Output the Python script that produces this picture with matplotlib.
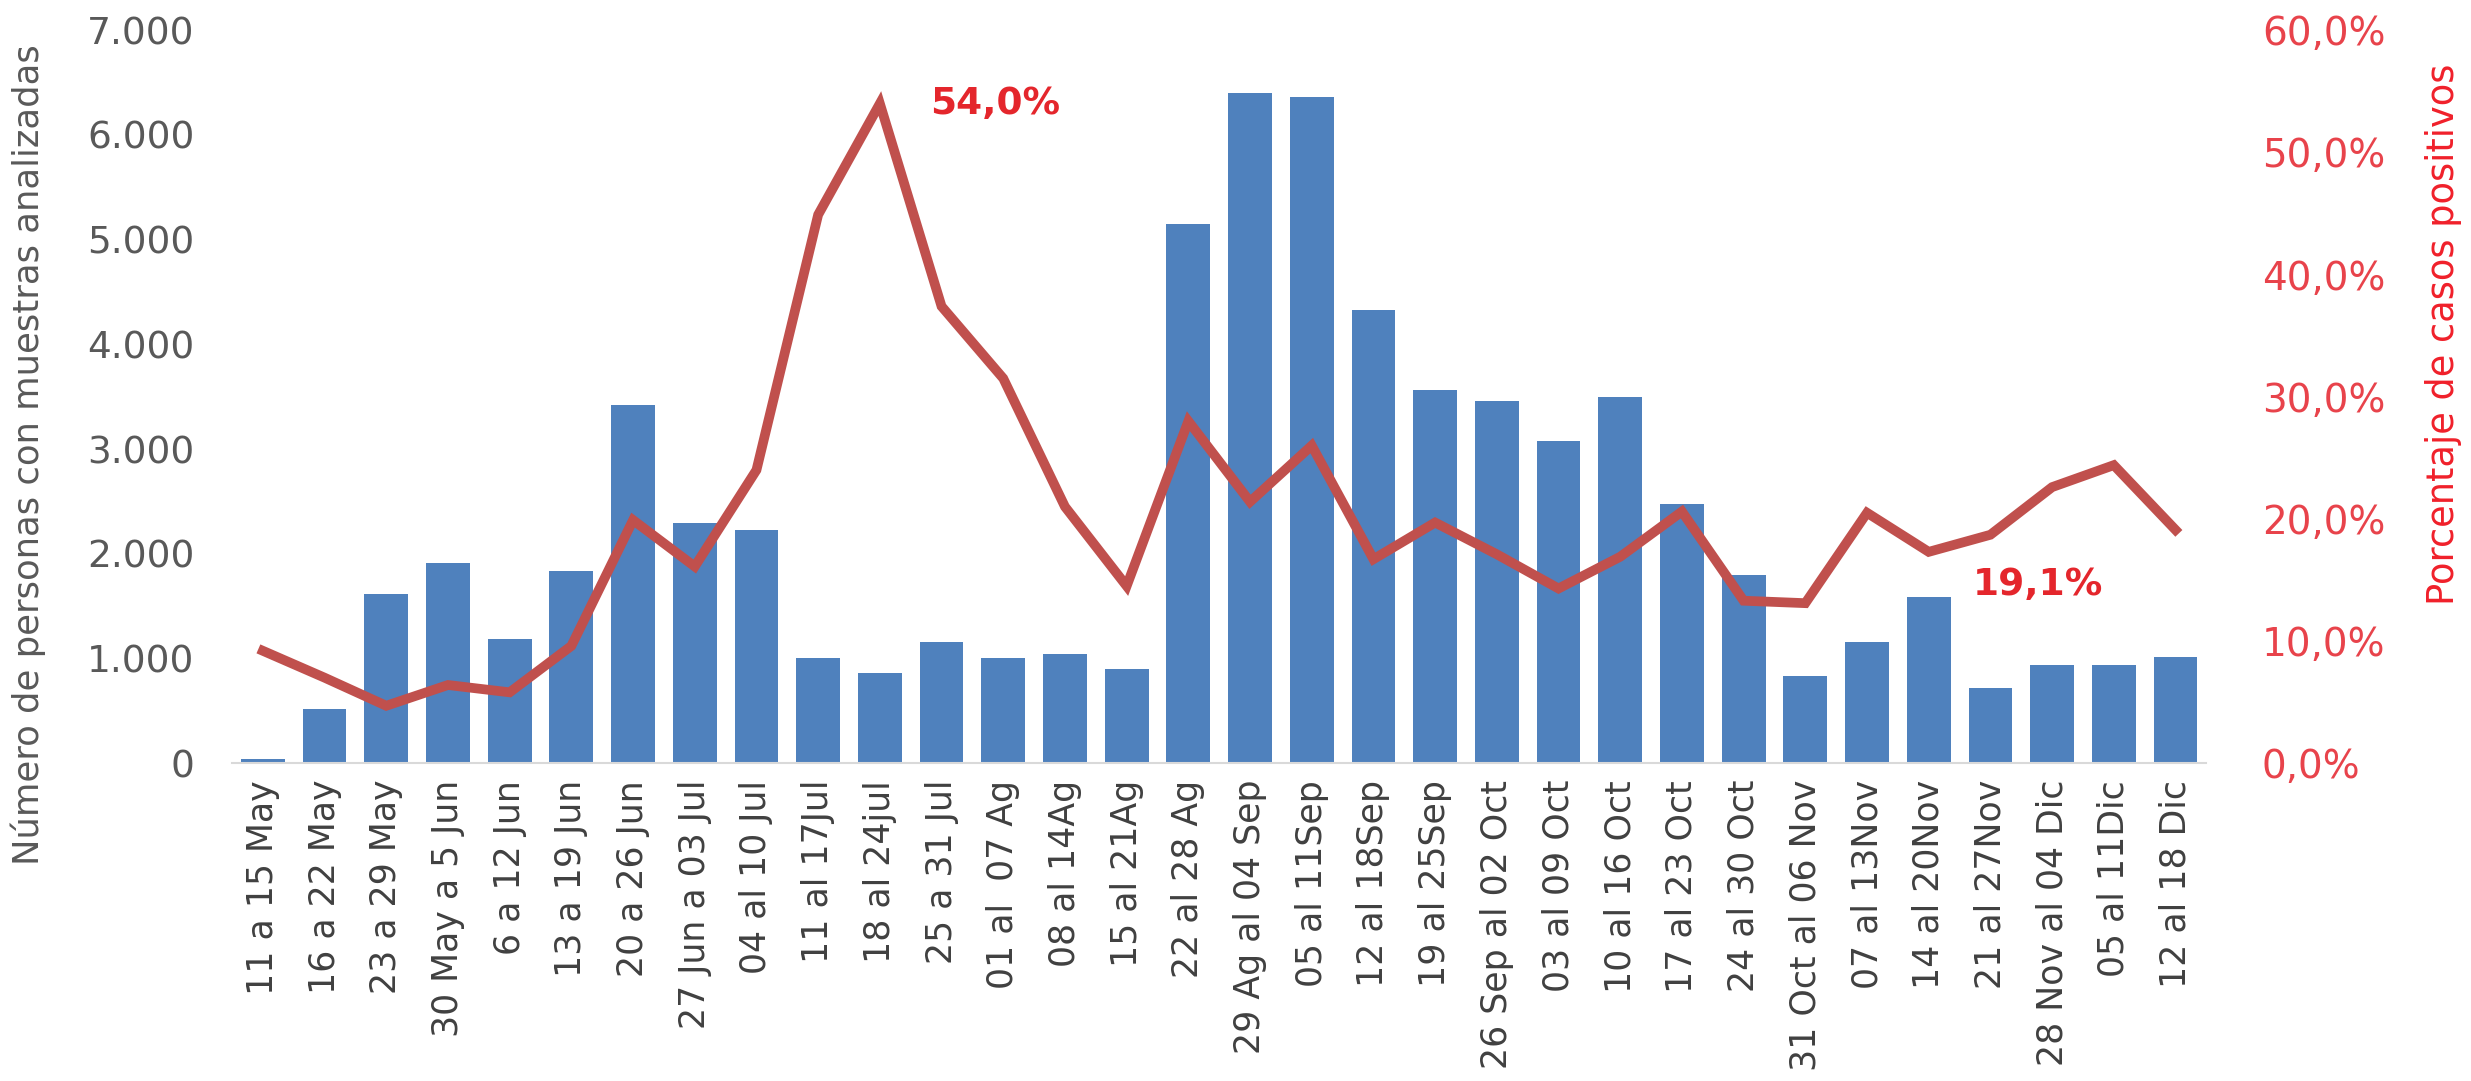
import matplotlib
matplotlib.use('Agg')
import matplotlib.pyplot as plt
from matplotlib.ticker import FuncFormatter

# weekly periods
semanas = ["11 a 15 May", "16 a 22 May", "23 a 29 May", "30 May a 5 Jun", "6 a 12 Jun",
           "13 a 19 Jun", "20 a 26 Jun", "27 Jun a 03 Jul", "04 al 10 Jul", "11 al 17Jul",
           "18 al 24jul", "25 a 31 Jul", "01 al  07 Ag", "08 al 14Ag", "15 al 21Ag",
           "22 al 28 Ag", "29 Ag al 04 Sep", "05 al 11Sep", "12 al 18Sep", "19 al 25Sep",
           "26 Sep al 02 Oct", "03 al 09 Oct", "10 al 16 Oct", "17 al 23 Oct", "24 al 30 Oct",
           "31 Oct al 06 Nov", "07 al 13Nov", "14 al 20Nov", "21 al 27Nov", "28 Nov al 04 Dic",
           "05 al 11Dic", "12 al 18 Dic"]

# people with analysed samples
personas = [40, 515, 1620, 1910, 1190, 1840, 3425, 2290, 2225, 1005,
            860, 1155, 1000, 1040, 895, 5145, 6405, 6362, 4325, 3565,
            3460, 3075, 3500, 2475, 1800, 835, 1160, 1585, 720, 940,
            940, 1010]

# percentage of positive cases
positivos = [9.2, 7.0, 4.7, 6.4, 5.8, 9.6, 19.9, 16.1, 24.0, 44.9,
             54.0, 37.4, 31.5, 21.0, 14.5, 28.0, 21.4, 26.0, 16.7, 19.7,
             17.1, 14.3, 16.9, 20.6, 13.3, 13.1, 20.5, 17.3, 18.7, 22.6,
             24.4, 19.1]

BLUE = '#4F81BD'
RED_LINE = '#C0504D'
RED_TXT = '#E4262C'
GREY = '#595959'

fig = plt.figure(figsize=(24.71, 10.81), dpi=100)
ax = fig.add_axes([0.0939, 0.294, 0.799, 0.678])

x = list(range(len(semanas)))
ax.bar(x, personas, width=0.71, color=BLUE)
ax.set_xlim(-0.5, len(semanas) - 0.5)
ax.set_ylim(0, 7000)
ax.set_yticks(range(0, 7001, 1000))
ax.yaxis.set_major_formatter(FuncFormatter(lambda v, p: f"{int(v):,}".replace(",", ".")))
ax.set_xticks(x)
ax.set_xticklabels(semanas, rotation=90, fontsize=25, color='#404040')
ax.tick_params(axis='x', length=0, pad=12)
ax.tick_params(axis='y', length=0, pad=27, labelsize=27, labelcolor=GREY)
for s in ['top', 'right', 'left']:
    ax.spines[s].set_visible(False)
ax.spines['bottom'].set_color('#D9D9D9')
ax.spines['bottom'].set_linewidth(1.5)

ax2 = ax.twinx()
ax2.plot(x, positivos, color=RED_LINE, linewidth=7, solid_joinstyle='miter')
ax2.set_ylim(0, 60)
ax2.set_yticks(range(0, 61, 10))
ax2.yaxis.set_major_formatter(FuncFormatter(lambda v, p: f"{v:.1f}%".replace(".", ",")))
ax2.tick_params(axis='y', length=0, pad=40, labelsize=28, labelcolor='#E8434B')
for s in ax2.spines.values():
    s.set_visible(False)

# axis titles
fig.text(0.0115, 0.579, 'Número de personas con muestras analizadas', rotation=90,
         ha='center', va='center', fontsize=25.5, color=GREY)
fig.text(0.989, 0.691, 'Porcentaje de casos positivos', rotation=90,
         ha='center', va='center', fontsize=26.5, color='#F0202A')

# highlighted values
ax2.annotate("54,0%", (10, positivos[10]), xytext=(36, 0), textcoords='offset points',
             ha='left', va='center', fontsize=27, fontweight='bold', color=RED_TXT)
ax2.annotate("19,1%", (31, positivos[31]), xytext=(-52, -40), textcoords='offset points',
             ha='right', va='center', fontsize=27, fontweight='bold', color=RED_TXT)

fig.savefig('out.png', dpi=100)
